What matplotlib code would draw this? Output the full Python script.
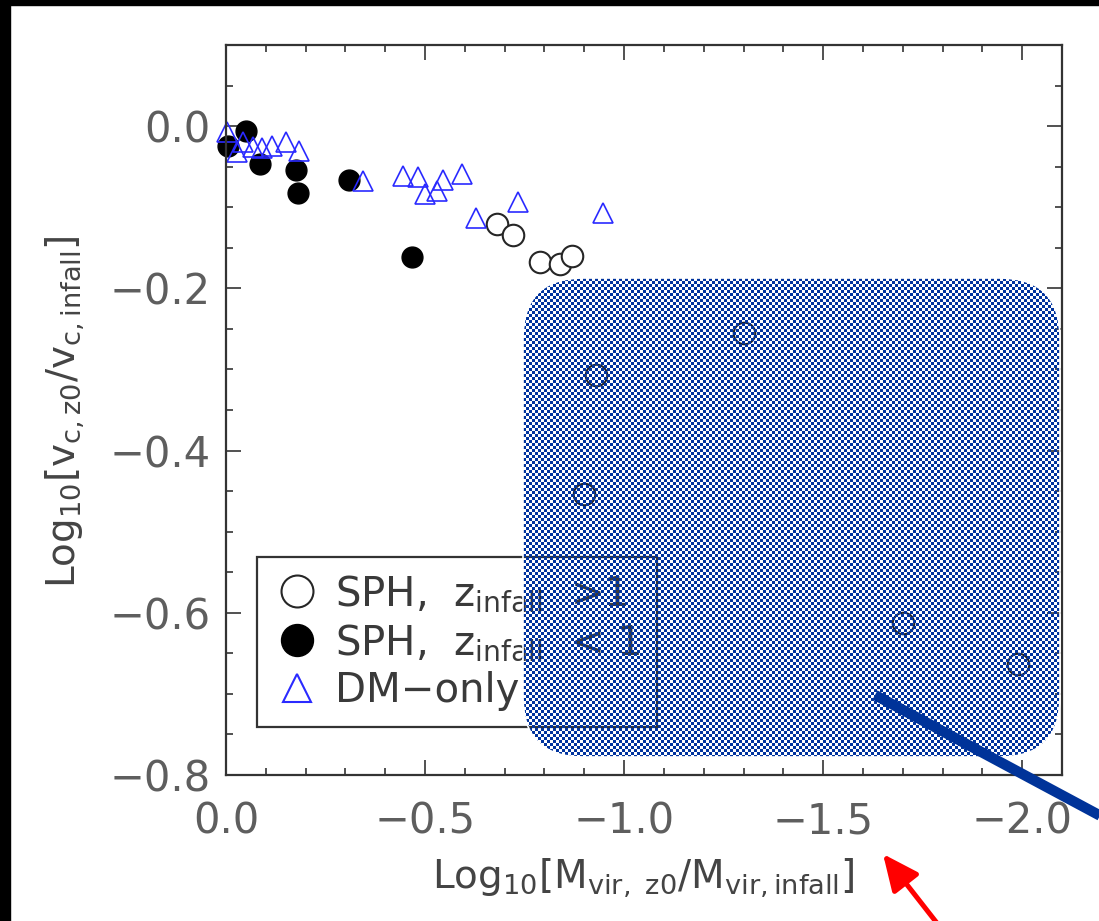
import matplotlib.pyplot as plt
import numpy as np
from matplotlib.patches import FancyBboxPatch, Rectangle
from matplotlib.lines import Line2D
from matplotlib.ticker import MultipleLocator

plt.rcParams['font.family'] = 'DejaVu Sans'
plt.rcParams['mathtext.fontset'] = 'dejavusans'

# SPH haloes, z_infall > 1 (open circles)
sph_hi_x = [-0.68, -0.72, -0.79, -0.84, -0.87, -1.30, -0.93, -0.90, -1.70, -1.99]
sph_hi_y = [-0.121, -0.134, -0.167, -0.170, -0.160, -0.255, -0.307, -0.453, -0.613, -0.663]

# SPH haloes, z_infall < 1 (filled circles)
sph_lo_x = [-0.005, -0.05, -0.085, -0.176, -0.181, -0.309, -0.467]
sph_lo_y = [-0.025, -0.006, -0.047, -0.054, -0.082, -0.066, -0.161]

# DM-only haloes (triangles)
dm_x = [-0.003, -0.043, -0.028, -0.068, -0.090, -0.116, -0.151, -0.183, -0.344,
        -0.445, -0.482, -0.500, -0.530, -0.545, -0.593, -0.628, -0.734, -0.947]
dm_y = [-0.007, -0.020, -0.032, -0.026, -0.027, -0.025, -0.020, -0.031, -0.068,
        -0.062, -0.063, -0.084, -0.080, -0.066, -0.059, -0.113, -0.094, -0.107]

labels = [r"SPH,  $\mathregular{z_{infall}}$  >1",
          r"SPH,  $\mathregular{z_{infall}}$  < 1",
          "DM\u2212only"]

W, H = 1099, 921
fig = plt.figure(figsize=(W / 100, H / 100), dpi=100)
ax = fig.add_axes([226 / W, 1 - 775 / H, 836 / W, 730 / H])

ax.plot(sph_hi_x, sph_hi_y, 'o', ms=15.5, mfc='white', mec='#262626', mew=1.5, clip_on=False)
ax.plot(sph_lo_x, sph_lo_y, 'o', ms=15, mfc='black', mec='black', clip_on=False)
ax.plot(dm_x, dm_y, '^', ms=14, mfc='none', mec='#2a2aff', mew=1.2, clip_on=False)

ax.set_xlim(0, -2.1)
ax.set_ylim(-0.8, 0.1)
ax.xaxis.set_major_locator(MultipleLocator(0.5))
ax.xaxis.set_minor_locator(MultipleLocator(0.1))
ax.yaxis.set_major_locator(MultipleLocator(0.2))
ax.yaxis.set_minor_locator(MultipleLocator(0.05))
ax.tick_params(which='both', direction='in', top=True, right=True, width=1.2, color='#333333')
ax.tick_params(which='major', length=11)
ax.tick_params(which='minor', length=5)
ax.tick_params(axis='x', labelsize=30, labelcolor='#5e5e5e', pad=18)
ax.tick_params(axis='y', labelsize=30, labelcolor='#5e5e5e', pad=11)
for s in ax.spines.values():
    s.set_linewidth(1.6)
    s.set_color('#333333')

# legend
handles = [
    Line2D([], [], marker='o', ls='', ms=23, mfc='white', mec='#262626', mew=1.5),
    Line2D([], [], marker='o', ls='', ms=23, mfc='black', mec='black'),
    Line2D([], [], marker='^', ls='', ms=20, mfc='none', mec='#2a2aff', mew=1.5),
]
leg = ax.legend(handles, labels, loc='upper left', bbox_to_anchor=(0.037, 0.2986),
                borderaxespad=0, fontsize=29, fancybox=False, framealpha=1,
                edgecolor='#333333', handlelength=1.2, handletextpad=0.35,
                borderpad=0.4, labelspacing=0.2)
leg.get_frame().set_linewidth(1.6)
for t in leg.get_texts():
    t.set_color('#3a3a3a')

# axis labels
fig.text(643 / W, 1 - 878 / H, r"$\mathregular{Log_{10}[M_{vir,\ z0}/M_{vir,infall}]}$",
         fontsize=28, color='#444444', ha='center', va='center')
fig.text(65 / W, 1 - 412 / H, r"$\mathregular{Log_{10}[v_{c,z0}/v_{c,infall}]}$",
         fontsize=28, color='#444444', ha='center', va='center', rotation=90)

# overlay drawn on top of the chart, in pixel coordinates
ov = fig.add_axes([0, 0, 1, 1], zorder=5)
ov.patch.set_alpha(0)
ov.set_xlim(0, W)
ov.set_ylim(H, 0)
ov.axis('off')

bx, by, bw, bh, rad = 523, 278, 537, 479, 60
yy, xx = np.mgrid[0:bh, 0:bw]
mask = ((xx // 3 + yy // 3) % 2) == 0
img = np.zeros((bh, bw, 4))
img[mask] = (0.0, 0.2, 0.62, 1.0)
box = FancyBboxPatch((bx, by), bw, bh, boxstyle=f'round,pad=0,rounding_size={rad}',
                     fc='none', ec='white', lw=1.2, transform=ov.transData)
ov.add_patch(box)
pattern = fig.figimage(img, xo=bx, yo=H - (by + bh), origin='upper', zorder=4)
pattern.set_clip_path(box)

# thick blue line
ov.plot([875, 1140], [695, 695 + 0.536 * 265], color='#003399', lw=7.5, solid_capstyle='butt')

# red arrow
ov.annotate('', xy=(883, 854), xytext=(958, 950),
            arrowprops=dict(arrowstyle='-|>,head_length=1.1,head_width=0.5', color='red',
                            lw=3.6, mutation_scale=20, shrinkA=0, shrinkB=0))

# black frame from the screenshot
fig.add_artist(Rectangle((0, 1 - 5 / H), 1, 5 / H, transform=fig.transFigure, color='black', zorder=20))
fig.add_artist(Rectangle((0, 0), 10 / W, 1, transform=fig.transFigure, color='black', zorder=20))

fig.savefig('out.png', dpi=100, facecolor='white')
